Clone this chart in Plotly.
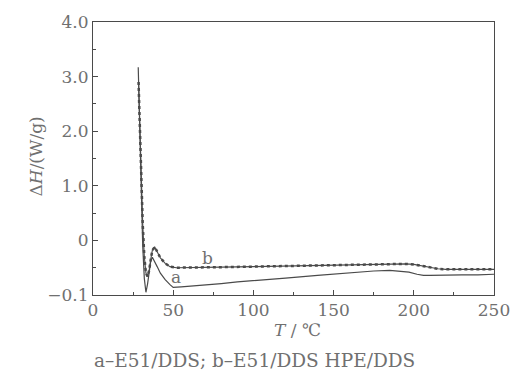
import plotly.graph_objects as go

# Curve a: E51/DDS
t_a = [28.2, 29, 30, 31, 32, 33, 34, 35, 36, 37, 38, 40, 42, 45, 48, 50, 55, 60, 70, 80, 90, 100,
       120, 140, 160, 175, 185, 192, 197, 202, 206, 210, 220, 230, 240, 250]
h_a = [3.17, 2.2, 1.0, -0.1, -0.7, -0.95, -0.8, -0.55, -0.38, -0.31, -0.36, -0.48, -0.6, -0.72,
       -0.81, -0.86, -0.85, -0.84, -0.82, -0.79, -0.76, -0.74, -0.69, -0.64, -0.59, -0.56, -0.55,
       -0.56, -0.58, -0.62, -0.64, -0.64, -0.63, -0.63, -0.63, -0.62]

# Curve b: E51/DDS HPE/DDS
t_b = [28.4, 29, 30, 31, 32, 33, 34, 35, 36, 37, 38.5, 40, 42, 45, 48, 52, 55, 60, 80, 100, 120,
       140, 160, 180, 195, 200, 205, 210, 215, 220, 230, 240, 250]
h_b = [2.9, 2.3, 1.2, 0.3, -0.3, -0.6, -0.66, -0.55, -0.35, -0.18, -0.12, -0.2, -0.32, -0.42,
       -0.48, -0.5, -0.5, -0.5, -0.49, -0.48, -0.47, -0.45, -0.44, -0.43, -0.43, -0.44, -0.47,
       -0.5, -0.52, -0.53, -0.53, -0.53, -0.53]

y_tickvals = [-1, 0, 1, 2, 3, 4]
y_ticktext = ["\u22120.1", "0", "1.0", "2.0", "3.0", "4.0"]
x_tickvals = [0, 50, 100, 150, 200, 250]

line_col = "#4a4a4a"
text_col = "#707070"
font_fam = "DejaVu Serif, serif"

fig = go.Figure()
fig.add_trace(go.Scatter(x=t_a, y=h_a, mode="lines",
                         line=dict(color=line_col, width=1.2), showlegend=False))
fig.add_trace(go.Scatter(x=t_b, y=h_b, mode="lines",
                         line=dict(color=line_col, width=1.1), showlegend=False))
fig.add_trace(go.Scatter(x=t_b, y=h_b, mode="lines",
                         line=dict(color=line_col, width=2.5, dash="dot"), showlegend=False))

fig.add_annotation(x=71.5, y=-0.33, text="b", showarrow=False,
                   font=dict(family=font_fam, size=17, color=text_col))
fig.add_annotation(x=52, y=-0.67, text="a", showarrow=False,
                   font=dict(family=font_fam, size=17, color=text_col))

fig.add_annotation(x=0.511, y=-0.171, xref="paper", yref="paper",
                   text="<i>T</i> / \u2103", showarrow=False,
                   font=dict(family=font_fam, size=17, color=text_col))
fig.add_annotation(x=0.403, y=-0.284, xref="paper", yref="paper",
                   text="a\u2013E51/DDS; b\u2013E51/DDS HPE/DDS", showarrow=False,
                   font=dict(family=font_fam, size=18.5, color=text_col))
fig.add_annotation(x=-0.171, y=0.509, xref="paper", yref="paper", textangle=-90,
                   text="\u0394<i>H</i>/(W/g)", showarrow=False,
                   font=dict(family=font_fam, size=17, color=text_col))

fig.update_xaxes(range=[0, 250], tickvals=x_tickvals, ticks="inside", ticklen=5,
                 tickcolor=line_col, showline=True, linecolor=line_col, mirror=True,
                 linewidth=1, showgrid=False, zeroline=False,
                 minor=dict(tickvals=[25, 75, 125, 175, 225], ticks="inside", ticklen=3,
                            tickcolor=line_col),
                 tickfont=dict(family=font_fam, size=17, color=text_col))
fig.update_yaxes(range=[-1, 4], tickvals=y_tickvals, ticktext=y_ticktext, ticks="inside",
                 ticklen=5, tickcolor=line_col, showline=True, linecolor=line_col,
                 mirror=True, linewidth=1, showgrid=False, zeroline=False,
                 minor=dict(tickvals=[-0.5, 0.5, 1.5, 2.5, 3.5], ticks="inside", ticklen=3,
                            tickcolor=line_col),
                 tickfont=dict(family=font_fam, size=17, color=text_col))

fig.update_layout(width=522, height=380, margin=dict(l=93, r=20, t=20, b=85),
                  plot_bgcolor="white", paper_bgcolor="white")

fig.write_html("out.html")
